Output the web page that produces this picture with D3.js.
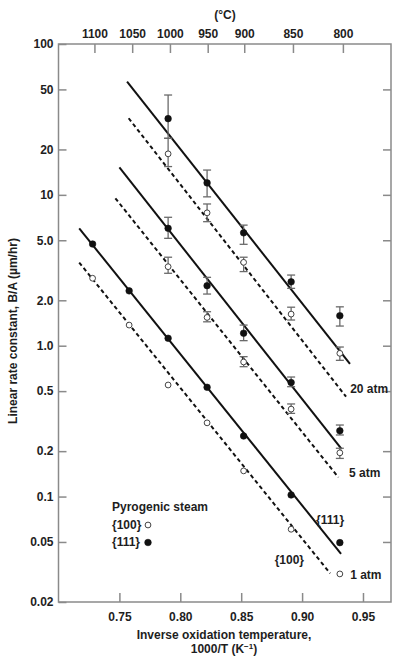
<!DOCTYPE html>
<html>
<head>
<meta charset="utf-8">
<script src="https://cdn.jsdelivr.net/npm/d3@7"></script>
<style>
  html, body { margin: 0; padding: 0; background: #fff; }
  svg { display: block; }
  text { font-family: "Liberation Sans", Arial, sans-serif; font-weight: bold; fill: #1e1e1e; }
</style>
</head>
<body>
<svg id="chart" width="395" height="658"></svg>
<script>
// Inverse oxidation temperature (1000/T, K^-1) of each measurement column, 1100 °C … 800 °C
const inverseT = [0.728, 0.758, 0.790, 0.822, 0.852, 0.891, 0.931];

// Celsius scale along the top edge and where each label sits in 1000/T
const celsiusLabels = [1100, 1050, 1000, 950, 900, 850, 800];
const celsiusAt = [0.7295, 0.7605, 0.7915, 0.8225, 0.8525, 0.8925, 0.9335];

// Axis ticks
const xTicks = [0.75, 0.80, 0.85, 0.90, 0.95];
const yTicks = [100, 50, 20, 10, 5, 2, 1, 0.5, 0.2, 0.1, 0.05, 0.02];
const yTickLabels = ["100", "50", "20", "10", "5.0", "2.0", "1.0", "0.5", "0.2", "0.1", "0.05", "0.02"];

// Linear rate constant B/A (µm/hr), pyrogenic steam
// 20 atm (columns 1000 … 800 °C)
const atm20_111 = [32.0, 12.0, 5.6, 2.65, 1.58];
const atm20_111Lo = [23.7, 9.7, 4.7, 2.4, 1.35];
const atm20_111Hi = [45.9, 14.6, 6.3, 2.94, 1.81];
const atm20_100 = [18.7, 7.6, 3.57, 1.62, 0.89];
const atm20_100Lo = [15.4, 6.64, 3.10, 1.48, 0.80];
const atm20_100Hi = [23.7, 8.7, 3.86, 1.80, 0.98];
// 5 atm (columns 1000 … 800 °C)
const atm5_111 = [6.0, 2.5, 1.21, 0.57, 0.273];
const atm5_111Lo = [5.15, 2.2, 1.08, 0.535, 0.256];
const atm5_111Hi = [7.1, 2.84, 1.37, 0.62, 0.298];
const atm5_100 = [3.34, 1.54, 0.78, 0.38, 0.195];
const atm5_100Lo = [3.02, 1.44, 0.726, 0.356, 0.179];
const atm5_100Hi = [3.86, 1.68, 0.846, 0.411, 0.209];
// 1 atm (columns 1100 … 800 °C)
const atm1_111 = [4.72, 2.31, 1.12, 0.53, 0.252, 0.1025, 0.0495];
const atm1_100 = [2.80, 1.37, 0.549, 0.308, 0.148, 0.0607, 0.0307];

// Fitted Arrhenius lines: [1000/T, B/A] at each end
const fit20_111 = [[0.7563, 56.3], [0.9393, 0.757]];
const fit20_100 = [[0.7576, 32.2], [0.9361, 0.459]];
const fit5_111 = [[0.750, 15.2], [0.9325, 0.206]];
const fit5_100 = [[0.7467, 9.49], [0.9298, 0.134]];
const fit1_111 = [[0.717, 6.0], [0.932, 0.0417]];
const fit1_100 = [[0.717, 3.56], [0.923, 0.031]];

// Curve labels: [text, 1000/T, B/A]
const curveLabels = [
  ["20 atm", 0.9395, 0.485],
  ["5 atm", 0.9385, 0.135],
  ["1 atm", 0.9395, 0.0285],
  ["{111}", 0.9115, 0.066],
  ["{100}", 0.8775, 0.0355]
];

const svg = d3.select("#chart");
const x = d3.scaleLinear().domain([0.70, 0.973]).range([58.5, 391]);
const y = d3.scaleLog().domain([0.02, 100]).range([602, 44]);

const axisGrey = "#8a8a8a";

function styleAxis(g) {
  g.select(".domain").remove();
  g.selectAll(".tick line").attr("stroke", axisGrey).attr("stroke-width", 1.5);
  g.selectAll(".tick text").attr("font-size", 12).attr("fill", "#1e1e1e")
    .attr("font-family", "Liberation Sans, Arial, sans-serif").attr("font-weight", "bold");
}

// Ticks on all four sides, pointing inward
svg.append("g").attr("transform", `translate(${x.range()[0]},0)`)
  .call(d3.axisLeft(y).tickValues(yTicks).tickFormat((d, i) => yTickLabels[i]).tickSize(-8).tickPadding(5))
  .call(styleAxis);
svg.append("g").attr("transform", `translate(${x.range()[1]},0)`)
  .call(d3.axisRight(y).tickValues(yTicks.slice(1, -1)).tickFormat("").tickSize(-8))
  .call(styleAxis);
svg.append("g").attr("transform", `translate(0,${y.range()[0]})`)
  .call(d3.axisBottom(x).tickValues(xTicks).tickFormat(d3.format(".2f")).tickSize(-9).tickPadding(10))
  .call(styleAxis);
svg.append("g").attr("transform", `translate(0,${y.range()[1]})`)
  .call(d3.axisTop(x).tickValues(celsiusAt).tickFormat((d, i) => celsiusLabels[i]).tickSize(-9).tickPadding(6))
  .call(styleAxis);

// Plot frame
svg.append("rect")
  .attr("x", x.range()[0]).attr("y", y.range()[1])
  .attr("width", x.range()[1] - x.range()[0]).attr("height", y.range()[0] - y.range()[1])
  .attr("fill", "none").attr("stroke", axisGrey).attr("stroke-width", 1.5);

// Axis titles
svg.append("text").attr("x", 225).attr("y", 19).attr("text-anchor", "middle")
  .attr("font-size", 12).text("(°C)");
svg.append("text").attr("x", 224).attr("y", 639).attr("text-anchor", "middle")
  .attr("font-size", 12).text("Inverse oxidation temperature,");
const t2 = svg.append("text").attr("x", 224).attr("y", 653).attr("text-anchor", "middle")
  .attr("font-size", 12);
t2.append("tspan").text("1000/T (K");
t2.append("tspan").attr("dy", -4).attr("font-size", 8).text("−1");
t2.append("tspan").attr("dy", 4).text(")");
svg.append("text").attr("transform", "translate(17,331) rotate(-90)").attr("text-anchor", "middle")
  .attr("font-size", 12).text("Linear rate constant, B/A (µm/hr)");

// Fit lines
const line = d3.line().x(d => x(d[0])).y(d => y(d[1]));
const fits = [
  [fit20_111, false], [fit20_100, true],
  [fit5_111, false], [fit5_100, true],
  [fit1_111, false], [fit1_100, true]
];
svg.append("g").selectAll("path").data(fits).join("path")
  .attr("d", d => line(d[0]))
  .attr("fill", "none").attr("stroke", "#111").attr("stroke-width", 2)
  .attr("stroke-dasharray", d => d[1] ? "4,3" : null);

// Error bars
const hiCols = inverseT.slice(2);
const errSets = [
  [atm20_111Lo, atm20_111Hi], [atm20_100Lo, atm20_100Hi],
  [atm5_111Lo, atm5_111Hi], [atm5_100Lo, atm5_100Hi]
];
const errG = svg.append("g").attr("stroke", "#6a6a6a").attr("stroke-width", 1.3);
errSets.forEach(([lo, hi]) => {
  lo.forEach((l, i) => {
    const cx = x(hiCols[i]);
    errG.append("line").attr("x1", cx).attr("x2", cx).attr("y1", y(l)).attr("y2", y(hi[i]));
    errG.append("line").attr("x1", cx - 4).attr("x2", cx + 4).attr("y1", y(l)).attr("y2", y(l));
    errG.append("line").attr("x1", cx - 4).attr("x2", cx + 4).attr("y1", y(hi[i])).attr("y2", y(hi[i]));
  });
});

// Points
function points(vals, cols, filled) {
  svg.append("g").selectAll("circle").data(vals).join("circle")
    .attr("cx", (d, i) => x(cols[i])).attr("cy", d => y(d))
    .attr("r", filled ? 3.3 : 2.9)
    .attr("fill", filled ? "#111" : "#fff")
    .attr("stroke", filled ? "#111" : "#444").attr("stroke-width", filled ? 0.6 : 1);
}
points(atm20_111, hiCols, true);
points(atm20_100, hiCols, false);
points(atm5_111, hiCols, true);
points(atm5_100, hiCols, false);
points(atm1_111, inverseT, true);
points(atm1_100, inverseT, false);

// Curve labels
svg.append("g").selectAll("text").data(curveLabels).join("text")
  .attr("x", d => x(d[1])).attr("y", d => y(d[2]))
  .attr("font-size", 12).text(d => d[0]);

// Legend
const lg = svg.append("g");
lg.append("text").attr("x", 112).attr("y", 511).attr("font-size", 12).text("Pyrogenic steam");
lg.append("text").attr("x", 112).attr("y", 529).attr("font-size", 12).text("{100}");
lg.append("text").attr("x", 112).attr("y", 546).attr("font-size", 12).text("{111}");
lg.append("circle").attr("cx", 148).attr("cy", 525).attr("r", 2.9)
  .attr("fill", "#fff").attr("stroke", "#444").attr("stroke-width", 1);
lg.append("circle").attr("cx", 148).attr("cy", 542.5).attr("r", 3.3)
  .attr("fill", "#111").attr("stroke", "#111").attr("stroke-width", 0.6);
</script>
</body>
</html>
